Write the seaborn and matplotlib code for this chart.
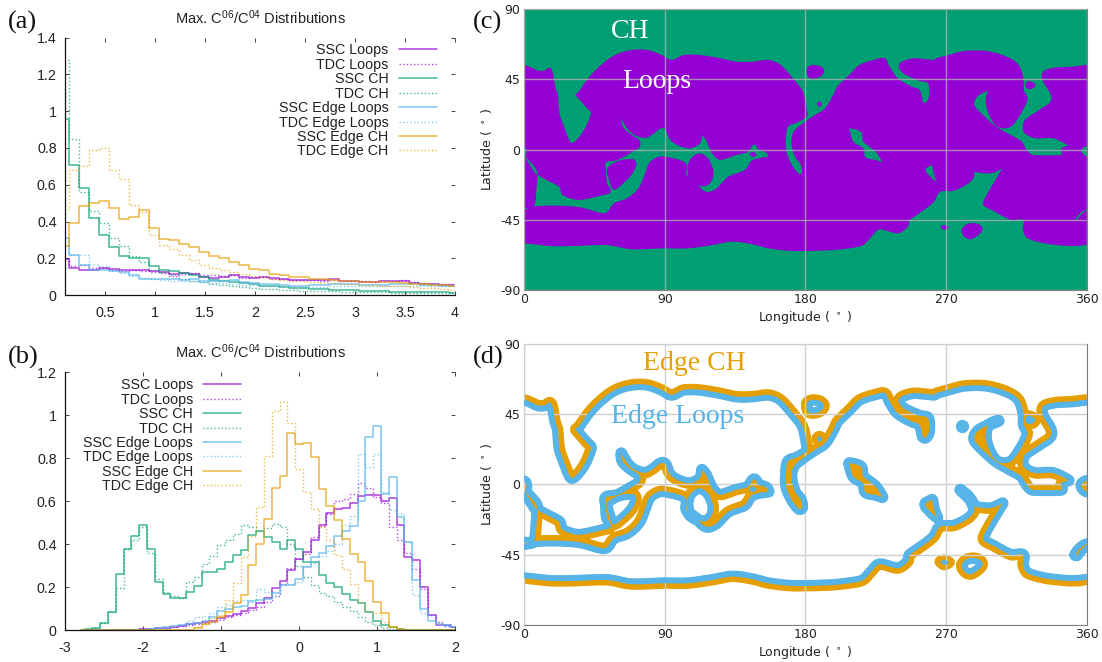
import numpy as np
import matplotlib
matplotlib.use("Agg")
import matplotlib.pyplot as plt
from matplotlib.path import Path
import seaborn as sns

# ---------- histogram data ----------
labels = ["SSC Loops", "TDC Loops", "SSC CH", "TDC CH", "SSC Edge Loops", "TDC Edge Loops", "SSC Edge CH", "TDC Edge CH"]
PURPLE, GREEN, BLUE, ORANGE = "#9400D3", "#009E73", "#56B4E9", "#E69F00"

a_x = [round(0.09 + 0.1 * i, 2) for i in range(40)]
a_ssc_loops = [.195,.15,.14,.14,.15,.145,.135,.14,.135,.13,.125,.115,.12,.115,.10,.095,.10,.11,.10,.095,.10,.095,.09,.085,.085,.085,.085,.09,.075,.075,.07,.07,.075,.075,.08,.065,.06,.06,.055,.055]
a_tdc_loops = [.20,.16,.165,.15,.15,.14,.13,.135,.13,.125,.12,.105,.115,.12,.11,.11,.105,.11,.095,.10,.10,.09,.09,.085,.085,.085,.08,.085,.08,.075,.075,.07,.075,.08,.085,.07,.065,.06,.06,.06]
a_ssc_ch = [.96,.705,.58,.42,.325,.265,.215,.205,.205,.16,.135,.13,.12,.11,.10,.085,.08,.07,.065,.06,.05,.05,.045,.04,.04,.035,.035,.03,.03,.03,.025,.025,.025,.02,.02,.02,.02,.02,.02,.015]
a_tdc_ch = [1.28,.85,.56,.46,.39,.31,.27,.215,.18,.14,.125,.11,.09,.08,.07,.06,.055,.05,.045,.04,.035,.035,.03,.03,.025,.025,.025,.025,.02,.02,.02,.02,.02,.015,.015,.015,.015,.015,.01,.01]
a_ssc_edge_loops = [.31,.22,.165,.14,.14,.13,.125,.11,.09,.09,.09,.09,.085,.09,.08,.075,.08,.085,.07,.065,.06,.06,.055,.05,.05,.055,.055,.06,.06,.06,.055,.055,.055,.06,.06,.06,.055,.055,.05,.05]
a_tdc_edge_loops = [.27,.22,.22,.17,.16,.135,.12,.105,.095,.09,.085,.08,.08,.075,.07,.065,.065,.06,.055,.055,.05,.05,.05,.045,.045,.045,.045,.05,.05,.05,.05,.05,.05,.05,.05,.05,.05,.05,.05,.05]
a_ssc_edge_ch = [.27,.39,.485,.50,.51,.475,.415,.425,.465,.367,.307,.30,.28,.26,.235,.215,.205,.18,.165,.145,.135,.118,.11,.10,.10,.09,.09,.085,.075,.075,.07,.07,.07,.07,.065,.06,.06,.055,.055,.05]
a_tdc_edge_ch = [.47,.68,.70,.79,.80,.68,.63,.49,.45,.325,.275,.25,.22,.19,.165,.15,.14,.125,.115,.105,.10,.09,.085,.08,.075,.07,.065,.065,.06,.06,.055,.055,.05,.05,.05,.045,.04,.04,.035,.03]

b_x = [round(-2.8 + 0.1 * i, 1) for i in range(49)]
b_ssc_loops = [0,0,0,0,0,.002,.002,.003,.005,.007,.01,.012,.015,.02,.03,.035,.04,.045,.055,.065,.075,.09,.105,.125,.15,.195,.23,.28,.33,.365,.42,.49,.545,.565,.57,.59,.625,.63,.63,.60,.615,.49,.34,.325,.20,.07,.026,.023,.015]
b_tdc_loops = [0,0,0,0,0,.002,.002,.003,.005,.007,.01,.012,.015,.02,.025,.03,.035,.04,.05,.06,.07,.08,.095,.11,.13,.16,.215,.29,.33,.355,.435,.485,.54,.60,.61,.635,.685,.66,.62,.59,.48,.42,.36,.285,.19,.07,.04,.02,.015]
b_ssc_ch = [0,.005,.01,.035,.085,.26,.38,.44,.49,.38,.225,.17,.15,.15,.18,.205,.27,.27,.285,.32,.35,.375,.445,.46,.435,.41,.38,.42,.38,.32,.32,.255,.22,.20,.17,.14,.125,.085,.045,.025,.015,.005,.002,0,0,0,0,0,0]
b_tdc_ch = [.005,.005,.01,.035,.085,.195,.38,.42,.48,.36,.24,.18,.16,.15,.225,.25,.31,.345,.395,.42,.45,.49,.48,.46,.475,.495,.48,.40,.30,.25,.21,.175,.16,.13,.11,.09,.06,.04,.025,.012,.008,.003,0,0,0,0,0,0,0]
b_ssc_edge_loops = [0,0,0,0,0,0,.001,.002,.003,.006,.01,.015,.02,.025,.03,.035,.045,.06,.09,.10,.11,.115,.135,.14,.145,.175,.21,.21,.24,.295,.34,.36,.39,.44,.46,.485,.60,.90,.95,.635,.715,.525,.41,.235,.10,.045,.03,.025,.015]
b_tdc_edge_loops = [0,0,0,0,0,0,.001,.002,.003,.006,.01,.01,.02,.03,.045,.06,.065,.08,.11,.12,.135,.14,.13,.19,.18,.16,.21,.215,.225,.30,.315,.345,.37,.40,.49,.53,.82,.76,.82,.645,.56,.54,.41,.165,.08,.07,.03,.02,.015]
b_ssc_edge_ch = [0]*15 + [.01,.03,.04,.06,.085,.125,.165,.305,.40,.52,.66,.72,.92,.865,.87,.805,.655,.58,.515,.425,.355,.32,.23,.13,.08,.015,.005] + [.002,0,0,0,0,0,0]
b_tdc_edge_ch = [0]*15 + [.015,.03,.055,.07,.14,.22,.34,.44,.575,.81,1.02,1.06,.965,.75,.645,.565,.48,.42,.35,.285,.215,.13,.09,.08,.04,.015,.003] + [0,0,0,0,0,0,0]

a_series = [a_ssc_loops, a_tdc_loops, a_ssc_ch, a_tdc_ch, a_ssc_edge_loops, a_tdc_edge_loops, a_ssc_edge_ch, a_tdc_edge_ch]
b_series = [b_ssc_loops, b_tdc_loops, b_ssc_ch, b_tdc_ch, b_ssc_edge_loops, b_tdc_edge_loops, b_ssc_edge_ch, b_tdc_edge_ch]
series_colors = [PURPLE, PURPLE, GREEN, GREEN, BLUE, BLUE, ORANGE, ORANGE]

a_xticks = [0.5, 1, 1.5, 2, 2.5, 3, 3.5, 4]
a_xticklabels = ["0.5", "1", "1.5", "2", "2.5", "3", "3.5", "4"]
a_yticks = [0, .2, .4, .6, .8, 1, 1.2, 1.4]
a_yticklabels = ["0", "0.2", "0.4", "0.6", "0.8", "1", "1.2", "1.4"]
b_xticks = [-3, -2, -1, 0, 1, 2]
b_yticks = [0, .2, .4, .6, .8, 1, 1.2]
b_yticklabels = ["0", "0.2", "0.4", "0.6", "0.8", "1", "1.2"]
title_text = "Max. C$^{06}$/C$^{04}$ Distributions"

# ---------- map regions: open-field boundary as (longitude, latitude) ----------
loops_main = [(-15,54.3),(0,54.3),(4,53),(9,50.7),(13,50.7),(16.5,52.6),(18.3,50),(20,40.4),(21.7,35),(22.7,23.3),(26,13.7),(30,4.5),(34,6.6),(39,13.7),(42.8,23.3),(40.3,26.5),(33,35),(35,37.2),(41.6,46.4),(49.3,54.3),(58.3,60.7),(68.7,63.9),(79,63.9),(88,60.7),(94.5,57.5),(102,60.7),(112.5,60.7),(125.4,58.6),(135.8,56.4),(146,56.4),(156.4,57.5),(164.2,54.3),(172,45.7),(178.3,37.2),(180.9,25.4),(181,21.2),(174.5,17.3),(168.8,14.7),(167.5,6.2),(168,-2.4),(172,-10.9),(175.8,-15.6),(177.8,-14.8),(177,-9.8),(173.2,-4.5),(171,4),(172.4,11.5),(178.3,16.9),(186,22.2),(192.5,26.5),(197.7,35),(200.3,40.4),(208,47.9),(214.5,54.3),(223.5,57.5),(230.7,58.6),(233.8,53.2),(239,45.7),(248,40.4),(253,38.3),(255,30.8),(257,30.1),(259,34),(258.4,42.5),(253,44),(243,48.5),(239.5,53.2),(241.6,56.4),(249.3,58.6),(262.2,57.5),(263.5,58.6),(271.3,60.7),(281.6,63.3),(295.8,63.3),(308.7,59.6),(316.4,54.3),(319.5,44.7),(319.6,38.3),(322,32.5),(317.7,23),(311.3,14.7),(303.5,14.3),(298.4,20.1),(295.3,29.7),(297,38),(303.5,40.8),(291,35),(288,28.6),(295.8,20),(303.5,13.7),(317.7,5.7),(321.5,-0.2),(325.5,-3.4),(343.5,-3.4),(343.5,0.8),(348.2,2.6),(338.4,7.3),(326.8,7.3),(319.5,11.5),(320.3,19),(329.3,25.4),(337.3,32.5),(331.9,43.6),(331.9,50),(339.7,52.6),(350,53.2),(360,54.3),(375,54.3),
 (375,2.3),(360,2.3),(356.4,-0.6),(360,-4.5),(375,-4.5),
 (375,-61),(360,-61),(353.8,-61.8),(345.7,-61.6),(332.8,-60.1),(322,-56.9),(319,-51.5),(319,-45.1),(311.3,-45.1),(301,-39.7),(293.5,-34),(306,-12),(298.4,-15.2),(288,-14.1),(285.5,-9.8),(279,-3.4),(285,-8.7),(288,-16.2),(284.2,-21.6),(275.1,-26.3),(266.1,-27),(262.2,-33.4),(255.8,-38.7),(246.7,-45.1),(245.5,-49.4),(239,-53.7),(227.4,-51.1),(222.2,-55.8),(215.8,-61.8),(197.7,-64.4),(171.9,-65),(156.4,-63.3),(146.1,-60.7),(133.2,-59),(120.3,-61.2),(104.8,-63.3),(89.3,-63.3),(68.7,-63.9),(53.2,-61.2),(32.5,-61.8),(17,-61.8),(0,-60.1),(-15,-60.1),
 (-15,-38),(0,-38.2),(8.5,-36.2),(21.3,-35.9),(36,-37),(51.6,-40.8),(57.5,-34.4),(66.5,-30.9),(74,-23.5),(79,-10.7),(81.6,-6.9),(88,-4.2),(99.6,-6.6),(104,-9.8),(104,-16.3),(110,-21.6),(116.4,-27),(123,-24.9),(130.6,-17.4),(141,-13.2),(146.1,-6.7),(156.4,-4.5),(155,-2),(150,0),(147,3.3),(143,-1.5),(135.8,-3.4),(125.4,-6.6),(120.3,-2.4),(116.4,6.2),(113.8,9.4),(112.5,3.9),(106,0.8),(98.3,2.8),(93,6.8),(89.3,13.8),(82.9,10.2),(77.7,7.5),(71,9.2),(66.1,13.4),(62.2,20),(63,15),(67.5,10.4),(73.9,6),(73.9,1.7),(67.5,-2.5),(59.7,-6.7),(52.4,-8.2),(52.4,-13),(53,-21),(55.5,-27),(51,-29),(35,-32.3),(24.5,-29),(22.4,-23.7),(9.6,-16.8),(7.5,-12),(1,-4.5),(1.5,-1.3),(0,2),(-15,2)]
loops_left = [(-15,-5.2),(0,-5.2),(1,-5.5),(7,-15),(8.5,-16.2),(8,-25),(6.4,-36.3),(0,-37.3),(-15,-37.3)]
loops_oval = [(104.8,-9.8),(107.4,-4.9),(112.5,-2.4),(117.7,-5.6),(121,-13),(120.3,-19.5),(116.4,-23.3),(111.2,-22.7),(106,-19.5),(104.8,-15.2)]
loops_blob = [(53.2,-12),(60.9,-7),(70,-6.2),(71.8,-9.8),(68.7,-16.3),(62.2,-22.7),(57,-25.5),(54.5,-19.5)]
loops_north = [(180.9,52.2),(184.8,54.3),(190,53.2),(192,50),(188.7,46.4),(182.2,46.2)]
loops_dot1 = [(187.4,29.3),(188.9,30.8),(190.5,29.3),(188.9,27.1)]
loops_dot2 = [(320.8,42.5),(322.9,44),(326.8,42.1),(325.5,39.3),(321.5,39.3)]
loops_dot3 = [(144,-3),(146.1,-1.3),(148.7,-3),(146.6,-4.9)]
loops_south1 = [(266.1,-49.4),(268.7,-48.3),(272,-49.8),(268.7,-51.5)]
loops_south2 = [(279.8,-51.5),(283.4,-47.7),(289.3,-47.3),(293.2,-50.5),(290.6,-54.7),(285.5,-57.5),(281.6,-55.8)]
ch_hole1 = [(208,13.7),(215.3,11.5),(217,5.1),(224.8,-1.3),(229.2,-8.1),(224.8,-6.6),(218.4,-4.9),(217,0.8),(210.6,5.1)]
ch_hole2 = [(257,-12),(261,-9.8),(262.2,-16.3),(264.3,-21.2),(261,-18.4),(257,-14.1)]
ch_sliver = [(352.5,-45),(355,-41.5),(360,-38.3),(375,-38.3),(375,-38.9),(360,-39),(356,-42),(353.5,-45.3)]
edge_spot_lon, edge_spot_lat = [280.3], [37.2]

loop_regions = [loops_main, loops_left, loops_oval, loops_blob, loops_north, loops_dot1, loops_dot2, loops_dot3, loops_south1, loops_south2]
ch_regions = [ch_hole1, ch_hole2, ch_sliver]
lon_ticks = [0, 90, 180, 270, 360]
lat_ticks = [-90, -45, 0, 45, 90]

# ---------- style ----------
sns.set_theme(style="ticks")
plt.rcParams["font.family"] = ["Liberation Sans", "DejaVu Sans"]
plt.rcParams["mathtext.fontset"] = "custom"
plt.rcParams["mathtext.rm"] = "Liberation Sans"
plt.rcParams["mathtext.it"] = "Liberation Sans"
plt.rcParams["mathtext.bf"] = "Liberation Sans"

W, H = 1102, 662
fig = plt.figure(figsize=(W / 100, H / 100), dpi=100)
def axes_px(l, t, r, b):
    return fig.add_axes([l / W, 1 - b / H, (r - l) / W, (b - t) / H])

ax_a = axes_px(65, 37.5, 455, 295.3)
ax_b = axes_px(65, 372.3, 455, 630.3)
ax_c = axes_px(524, 9.3, 1087, 290)
ax_d = axes_px(524, 344, 1087, 625)

def hist_panel(ax, x, series, xlim, ylim, xt, xtl, yt, ytl, anchor):
    for lab, y, col in zip(labels, series, series_colors):
        dotted = lab.startswith("TDC")
        sns.lineplot(x=x, y=y, ax=ax, color=col, errorbar=None, label=lab, drawstyle="steps-mid",
                     linewidth=1.0 if dotted else 1.15, alpha=0.72,
                     linestyle=(0, (1, 1.6)) if dotted else "-")
    ax.set_xlim(*xlim)
    ax.set_ylim(*ylim)
    ax.set_xticks(xt, xtl)
    ax.set_yticks(yt, ytl)
    ax.set_xlabel("")
    ax.set_ylabel("")
    ax.tick_params(axis="both", which="both", direction="in", length=3.2, width=0.6, color="#222222",
                   top=True, right=True, labelsize=10.3, labelcolor="#222222")
    ax.tick_params(axis="x", pad=7.5)
    ax.tick_params(axis="y", pad=6)
    for s in ["top", "right"]:
        ax.spines[s].set_visible(False)
    for s in ["left", "bottom"]:
        ax.spines[s].set_linewidth(0.9)
        ax.spines[s].set_color("#111111")
    ax.set_title(title_text, fontsize=10.5, color="#222222", pad=10)
    h, l = ax.get_legend_handles_labels()
    ax.legend(h, l, loc="upper right", bbox_to_anchor=anchor, bbox_transform=ax.transAxes, frameon=False,
              markerfirst=False, fontsize=10.3, handlelength=2.65, handletextpad=0.71,
              labelspacing=0.03, borderaxespad=0, borderpad=0, labelcolor="#222222")

hist_panel(ax_a, a_x, a_series, (0.1, 4), (0, 1.4), a_xticks, a_xticklabels, a_yticks, a_yticklabels, (0.953, 0.977))
hist_panel(ax_b, b_x, b_series, (-3, 2), (0, 1.2), b_xticks, [str(v) for v in b_xticks], b_yticks, b_yticklabels, (0.452, 0.977))

def oriented(ring, clockwise=True):
    p = np.asarray(ring, float)
    area = 0.5 * np.sum(p[:, 0] * np.roll(p[:, 1], -1) - np.roll(p[:, 0], -1) * p[:, 1])
    return p if (area < 0) == clockwise else p[::-1]

def smooth_ring(ring, sub=6):
    """Round a traced outline: a Hermite curve through every traced vertex, sharp tips stay sharp."""
    p = np.asarray(ring, float)
    prev_v, next_v = p - np.roll(p, 1, axis=0), np.roll(p, -1, axis=0) - p
    l_prev = np.hypot(*prev_v.T)
    l_next = np.hypot(*next_v.T)
    chord = np.roll(p, -1, axis=0) - np.roll(p, 1, axis=0)
    unit = chord / np.maximum(np.hypot(*chord.T), 1e-9)[:, None]
    cosang = np.sum(prev_v * next_v, axis=1) / np.maximum(l_prev * l_next, 1e-9)
    m = unit * np.minimum(l_prev, l_next)[:, None]
    m[cosang < -0.2] = 0.0
    t = np.linspace(0, 1, sub, endpoint=False)[:, None]
    h00, h10, h01, h11 = 2*t**3 - 3*t**2 + 1, t**3 - 2*t**2 + t, -2*t**3 + 3*t**2, t**3 - t**2
    out = []
    for i in range(len(p)):
        j = (i + 1) % len(p)
        out.append(h00 * p[i] + h10 * m[i] + h01 * p[j] + h11 * m[j])
    return np.vstack(out)

def closed(ring):
    p = np.asarray(ring, float)
    return np.vstack([p, p[0]])

def map_axes(ax):
    ax.set_xlim(0, 360)
    ax.set_ylim(-90, 90)
    ax.set_xticks(lon_ticks, [str(v) for v in lon_ticks])
    ax.set_yticks(lat_ticks, [str(v) for v in lat_ticks])
    ax.tick_params(length=0, pad=2.5, labelsize=9, labelcolor="#222222", labelfontfamily="DejaVu Sans")
    ax.set_xlabel("Longitude ( $^\\circ$ )", fontsize=9, family="DejaVu Sans", color="#222222", labelpad=2, math_fontfamily="dejavusans")
    ax.set_ylabel("Latitude ( $^\\circ$ )", fontsize=9, family="DejaVu Sans", color="#222222", labelpad=4.5, math_fontfamily="dejavusans")
    for s in ax.spines.values():
        s.set_linewidth(0.8)
        s.set_color("#808080")
        s.set_visible(True)
    ax.set_axisbelow(False)

loop_smooth = [smooth_ring(r) for r in loop_regions]
ch_smooth = [smooth_ring(r) for r in ch_regions]

# panel (c)
ax_c.set_facecolor(GREEN)
for ring in loop_smooth:
    ax_c.fill(ring[:, 0], ring[:, 1], color=PURPLE, lw=0, zorder=1)
for ring in ch_smooth:
    ax_c.fill(ring[:, 0], ring[:, 1], color=GREEN, lw=0, zorder=1.5)
map_axes(ax_c)
ax_c.grid(True, color="#b5b5b5", lw=1.0, alpha=0.75, zorder=2)
ax_c.text(68, 75.5, "CH", color="white", family="Liberation Serif", fontsize=20, ha="center", va="center", zorder=4)
ax_c.text(85, 44, "Loops", color="white", family="Liberation Serif", fontsize=20, ha="center", va="center", zorder=4)

# panel (d)
ax_d.set_facecolor("white")
map_axes(ax_d)
ax_d.grid(True, color="#cfcfcf", lw=1.0, zorder=0.5)
rings = [closed(oriented(r, True)) for r in loop_smooth] + [closed(oriented(r, False)) for r in ch_smooth]
clip_shape = Path.make_compound_path(*[Path(r, closed=True) for r in rings])
px_to_pt = 0.72
for r in rings:
    ax_d.plot(r[:, 0], r[:, 1], color=ORANGE, lw=11 * px_to_pt, solid_joinstyle="round", solid_capstyle="round", zorder=2)
for r in rings:
    ln, = ax_d.plot(r[:, 0], r[:, 1], color=BLUE, lw=12 * px_to_pt, solid_joinstyle="round", solid_capstyle="round", zorder=3)
    ln.set_clip_path(clip_shape, ax_d.transData)
ax_d.plot(edge_spot_lon, edge_spot_lat, "o", color=BLUE, ms=9.5 * px_to_pt * 1.4, mew=0, zorder=3)
ax_d.set_xlim(0, 360)
ax_d.set_ylim(-90, 90)
ax_d.text(108.7, 77.6, "Edge CH", color=ORANGE, family="Liberation Serif", fontsize=20, ha="center", va="center", zorder=4)
ax_d.text(98.4, 43.7, "Edge Loops", color=BLUE, family="Liberation Serif", fontsize=20, ha="center", va="center", zorder=4)

# panel letters
for txt, px, py in [("(a)", 8, 22), ("(b)", 8, 357), ("(c)", 473, 22), ("(d)", 473, 357)]:
    fig.text(px / W, 1 - py / H, txt, family="Liberation Serif", fontsize=19, ha="left", va="center", color="#111111")

fig.savefig("out.png", dpi=100)
